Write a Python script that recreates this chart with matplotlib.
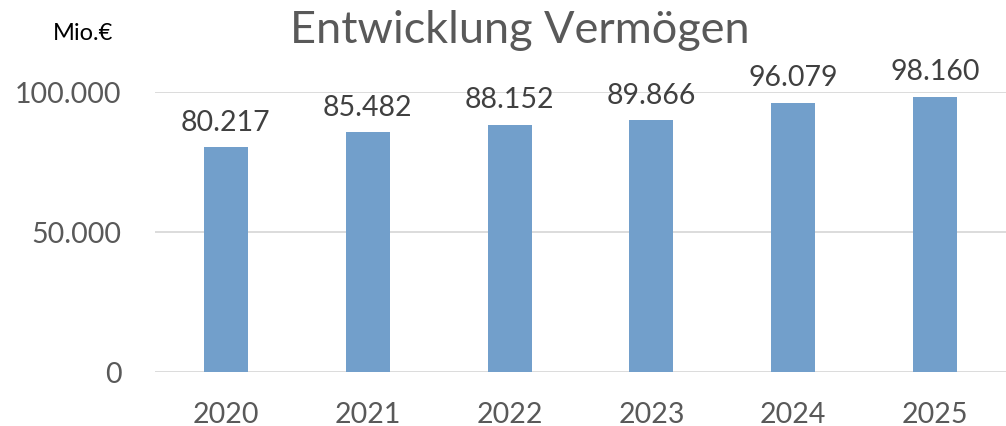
import matplotlib.pyplot as plt
from matplotlib.ticker import FuncFormatter

plt.rcParams['font.family'] = ['Lato', 'DejaVu Sans']

# data
years = ['2020', '2021', '2022', '2023', '2024', '2025']
vermoegen = [80217, 85482, 88152, 89866, 96079, 98160]

bar_color = '#729fcb'
text_color = '#595959'
grid_color = '#d9d9d9'


def de_format(v, pos=None):
    return '{:,.0f}'.format(v).replace(',', '.')


fig = plt.figure(figsize=(10.06, 4.27), dpi=100)
ax = fig.add_axes([155 / 1006, 1 - 373 / 427, 851 / 1006, (373 - 92.7) / 427])

x = range(len(years))
bars = ax.bar(x, vermoegen, width=0.31, color=bar_color, zorder=3)
ax.set_xlim(-0.5, len(years) - 0.5)
ax.set_ylim(0, 100000)
ax.set_yticks([0, 50000, 100000])
ax.yaxis.set_major_formatter(FuncFormatter(de_format))
ax.set_xticks(list(x))
ax.set_xticklabels(years)

# data labels
for xi, v in zip(x, vermoegen):
    ax.annotate(de_format(v), (xi, v), xytext=(0, 9), textcoords='offset points',
                ha='center', va='bottom', fontsize=20.5, color='#404040',
                annotation_clip=False)

ax.grid(axis='y', color=grid_color, linewidth=1.3, zorder=0)
ax.set_axisbelow(True)
for s in ax.spines.values():
    s.set_visible(False)
ax.tick_params(axis='both', length=0, labelsize=20.5, colors=text_color)
ax.tick_params(axis='x', pad=21)
ax.tick_params(axis='y', pad=24)

fig.text(0.517, 0.928, 'Entwicklung Vermögen', ha='center', va='center',
         fontsize=32.5, color=text_color)
fig.text(0.083, 0.921, 'Mio.€', ha='center', va='center', fontsize=17, color='black')

fig.savefig('out.png', dpi=100)
